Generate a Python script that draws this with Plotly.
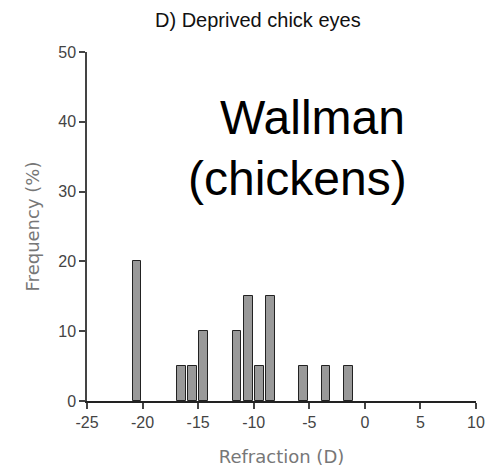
import plotly.graph_objects as go

# Refraction histogram of deprived chick eyes (1 D bins, centres)
refraction_bins = [-20.5, -16.5, -15.5, -14.5, -11.5, -10.5, -9.5, -8.5, -5.5, -3.5, -1.5]
frequency_pct = [20, 5, 5, 10, 10, 15, 5, 15, 5, 5, 5]

x_ticks = [-25, -20, -15, -10, -5, 0, 5, 10]
y_ticks = [0, 10, 20, 30, 40, 50]

fig = go.Figure()
fig.add_trace(go.Bar(
    x=refraction_bins,
    y=frequency_pct,
    width=0.8,
    marker=dict(color="#999999", line=dict(color="#222222", width=1)),
    showlegend=False,
))

tick_font = dict(family="Arial", size=16, color="#444444")
title_font = dict(family="DejaVu Sans", size=18, color="#777777")

fig.update_layout(
    width=492,
    height=474,
    margin=dict(l=87, r=16, t=52, b=73, autoexpand=False),
    paper_bgcolor="white",
    plot_bgcolor="white",
    bargap=0,
    xaxis=dict(
        range=[-25, 10],
        tickvals=x_ticks,
        ticktext=[str(v) for v in x_ticks],
        showgrid=False,
        zeroline=False,
        showline=True,
        linecolor="#222222",
        linewidth=1.5,
        ticks="outside",
        ticklen=6,
        tickwidth=1.5,
        tickcolor="#444444",
        tickfont=tick_font,
        automargin=False,
        title=dict(text="Refraction (D)", font=title_font, standoff=20),
    ),
    yaxis=dict(
        range=[0, 50],
        tickvals=y_ticks,
        showgrid=False,
        zeroline=False,
        showline=True,
        linecolor="#444444",
        linewidth=1.5,
        ticks="outside",
        ticklen=6,
        tickwidth=1.5,
        tickcolor="#444444",
        tickfont=tick_font,
        automargin=False,
        title=dict(text="Frequency (%)", font=title_font, standoff=14),
    ),
    annotations=[
        dict(
            text="D) Deprived chick eyes",
            xref="paper", yref="paper",
            x=(258 - 87) / 389, y=1 + (52 - 20) / 349,
            xanchor="center", yanchor="middle",
            showarrow=False,
            font=dict(family="Arial", size=20, color="#111111"),
        ),
        dict(
            text="Wallman",
            xref="paper", yref="paper",
            x=(312 - 87) / 389, y=(401 - 118) / 349,
            xanchor="center", yanchor="middle",
            showarrow=False,
            font=dict(family="Arial", size=48, color="#000000"),
        ),
        dict(
            text="(chickens)",
            xref="paper", yref="paper",
            x=(297 - 87) / 389, y=(401 - 178) / 349,
            xanchor="center", yanchor="middle",
            showarrow=False,
            font=dict(family="Arial", size=48, color="#000000"),
        ),
    ],
)

fig.write_html("out.html")
